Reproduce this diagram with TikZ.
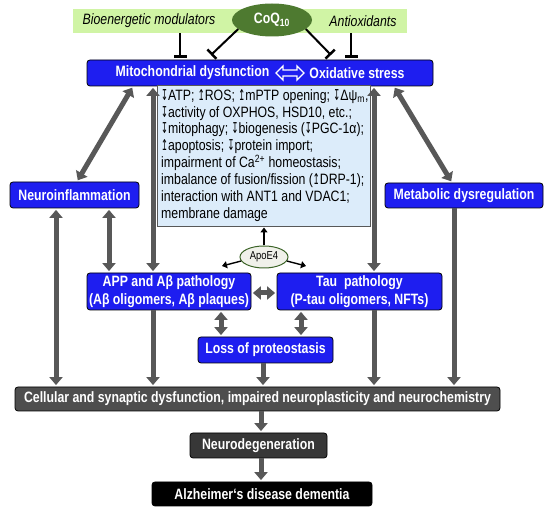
\documentclass[tikz,border=0pt]{standalone}
\usepackage{fontspec}
\setmainfont{Liberation Sans}[FakeStretch=0.82]
\newfontfamily\arrfont{DejaVu Sans}[FakeStretch=0.55]
\usetikzlibrary{arrows.meta,shapes.geometric,calc}
\definecolor{boxblue}{RGB}{30,30,240}
\definecolor{lgreen}{RGB}{208,244,165}
\definecolor{coqgreen}{RGB}{78,122,48}
\definecolor{lblue}{RGB}{220,236,250}
\definecolor{arrgray}{RGB}{88,88,88}
\definecolor{cellgray}{RGB}{78,78,78}
\definecolor{neurogray}{RGB}{55,55,55}
\definecolor{apoefill}{RGB}{240,241,234}
\definecolor{apoedraw}{RGB}{60,100,40}
\newcommand{\dnar}{{\arrfont ↧}}
\newcommand{\upar}{{\arrfont ↥}}
\tikzset{
  bluebox/.style={draw=black, line width=0.8pt, fill=boxblue, rounded corners=3pt, text=white,
    font=\fontsize{15}{18}\selectfont\bfseries, inner sep=0pt, align=center},
  darkbox/.style={bluebox, fill=#1},
  btxt/.style={text=white, font=\fontsize{15}{18}\selectfont\bfseries, inner sep=0pt},
  itxt/.style={text=black, font=\fontsize{15}{18}\selectfont\itshape, inner sep=0pt},
  garr/.style={draw=arrgray, line width=5pt, shorten >=1.5pt, -{Triangle[width=13pt,length=8pt]}},
  garrd/.style={draw=arrgray, line width=5pt, shorten >=1.5pt, shorten <=1.5pt,
    {Triangle[width=13pt,length=8pt]}-{Triangle[width=13pt,length=8pt]}},
  inhib/.style={draw=black, line width=2pt, shorten >=2pt, -{Bar[width=13pt,line width=2.5pt]}},
  thinarr/.style={draw=black, line width=1.4pt, -{Triangle[width=7pt,length=5pt]}}
}
\begin{document}
\begin{tikzpicture}[x=1pt,y=-1pt]
\useasboundingbox (0,0) rectangle (550,510);
% lane coordinates
\coordinate (xA) at (56,0);
\coordinate (xB) at (109,0);
\coordinate (xC) at (153,0);
\coordinate (xD) at (221,0);
\coordinate (xE) at (263,0);
\coordinate (xF) at (301,0);
\coordinate (xG) at (374,0);
\coordinate (xH) at (454,0);
\coordinate (xI) at (261,0);
\coordinate (xJ) at (133,0);
\coordinate (xK) at (77,0);
\coordinate (xL) at (452,0);
\coordinate (xM) at (394,0);
\coordinate (xN) at (180,0);
\coordinate (xO) at (351,0);
\coordinate (yR) at (0,293);
\coordinate (c1) at (211,55);
\coordinate (c2) at (331,55);
\coordinate (c3) at (222,266);
\coordinate (c4) at (306,266);

% top modulators
\node[fill=lgreen, minimum width=334pt, minimum height=24pt, inner sep=0pt] (mod) at (240,21) {};
\node[itxt] (bio) at (149,21) {Bioenergetic modulators};
\node[itxt] (anti) at (363,21) {Antioxidants};
\node[ellipse, fill=coqgreen, minimum width=80pt, minimum height=33pt, inner sep=0pt,
  text=white, font=\fontsize{15}{18}\selectfont\bfseries] (coq) at (272,20) {CoQ\textsubscript{10}};

% mito box
\node[bluebox, minimum width=346pt, minimum height=26pt] (mito) at (260,73) {};
\node[btxt] (mitotxt) at (192.5,73) {Mitochondrial dysfunction};
\node[btxt] (oxtxt) at (357,73) {Oxidative stress};
\draw[white, line width=1.3pt, fill=boxblue, line join=miter] (276,73) -- (283,66) -- (283,70) -- (297,70) -- (297,66)
  -- (304,73) -- (297,80) -- (297,76) -- (283,76) -- (283,80) -- cycle;

% description box
\node[draw=arrgray, line width=1pt, fill=lblue, minimum width=213pt, minimum height=141pt, inner sep=0pt] (descr) at (263.5,156.5) {};
\node[anchor=north west, align=left, inner sep=0pt, font=\fontsize{15}{16.9}\selectfont] (desctext) at (161,89)
{\dnar ATP; \upar ROS; \upar mPTP opening; \dnar Δψ\textsubscript{m},\\
\dnar activity of OXPHOS, HSD10, etc.;\\
\dnar mitophagy; \dnar biogenesis (\dnar PGC-1α);\\
\upar apoptosis; \dnar protein import;\\
impairment of Ca\textsuperscript{2+} homeostasis;\\
imbalance of fusion/fission (\upar DRP-1);\\
interaction with ANT1 and VDAC1;\\
membrane damage};

% side boxes
\node[bluebox, minimum width=129pt, minimum height=26pt] (neuro) at (74.5,195) {Neuroinflammation};
\node[bluebox, minimum width=158pt, minimum height=25pt] (meta) at (464,195.5) {Metabolic dysregulation};

% pathology
\node[bluebox, minimum width=164pt, minimum height=37pt] (app) at (169,291.5) {APP and Aβ pathology\\(Aβ oligomers, Aβ plaques)};
\node[bluebox, minimum width=165pt, minimum height=37pt] (tau) at (359.5,291.5) {Tau\ \ pathology\\(P-tau oligomers, NFTs)};
\node[ellipse, draw=apoedraw, line width=1pt, fill=apoefill, minimum width=48pt, minimum height=22pt, inner sep=0pt,
  font=\fontsize{11.5}{13}\selectfont] (apoe) at (264,257) {ApoE4};
\node[bluebox, minimum width=135pt, minimum height=26pt] (loss) at (265.5,350) {Loss of proteostasis};

% bottom
\node[darkbox=cellgray, minimum width=485pt, minimum height=24pt] (cell) at (257.5,399)
  {Cellular and synaptic dysfunction, impaired neuroplasticity and neurochemistry};
\node[darkbox=neurogray, minimum width=137pt, minimum height=25pt] (neurodeg) at (258.5,445.5) {Neurodegeneration};
\node[darkbox=black, minimum width=220pt, minimum height=24pt] (alz) at (262,494) {Alzheimer‘s disease dementia};

% inhibitors
\draw[inhib] (mod.south -| xN) -- (mito.north -| xN);
\draw[inhib] (mod.south -| xO) -- (mito.north -| xO);
\draw[inhib, shorten >=0pt] (coq.195) -- (c1);
\draw[inhib, shorten >=0pt] (coq.-15) -- (c2);

% gray arrows
\draw[garrd] (neuro.north -| xK) -- (mito.south -| xJ);
\draw[garrd] (meta.north -| xL) -- (mito.south -| xM);
\draw[garrd] (app.north -| xC) -- (mito.south -| xC);
\draw[garrd] (tau.north -| xG) -- (mito.south -| xG);
\draw[garrd] (neuro.south -| xA) -- (cell.north -| xA);
\draw[garrd] (neuro.south -| xB) -- (app.north -| xB);
\draw[garr] (app.south -| xC) -- (cell.north -| xC);
\draw[garr] (tau.south -| xG) -- (cell.north -| xG);
\draw[garr] (meta.south -| xH) -- (cell.north -| xH);
\draw[garr] (loss.south -| xE) -- (cell.north -| xE);
\draw[garrd] (app.east |- yR) -- (tau.west |- yR);
\draw[garrd] (app.south -| xD) -- (loss.north -| xD);
\draw[garrd] (tau.south -| xF) -- (loss.north -| xF);
\draw[garr] (cell.south -| xI) -- (neurodeg.north -| xI);
\draw[garr] (neurodeg.south -| xI) -- (alz.north -| xI);

% ApoE4 arrows
\draw[thinarr] (apoe.north) -- (descr.south -| apoe.north);
\draw[thinarr] (apoe.190) -- (c3);
\draw[thinarr] (apoe.-10) -- (c4);
\end{tikzpicture}
\end{document}
